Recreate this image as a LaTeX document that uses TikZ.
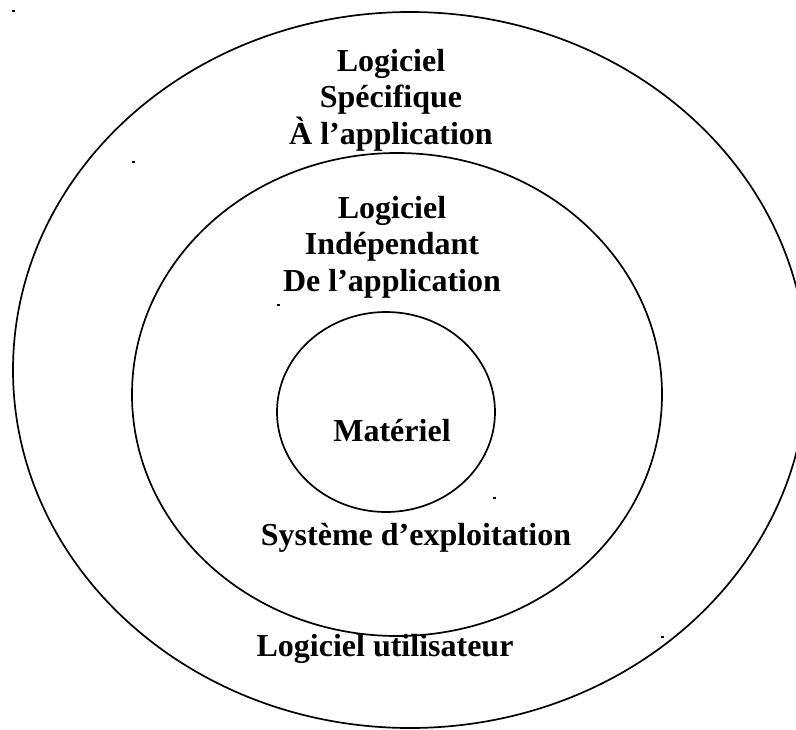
\documentclass[tikz,border=0pt]{standalone}
\usepackage{fontspec}
\setmainfont{Liberation Serif}
\usetikzlibrary{shapes.geometric}
\begin{document}
\begin{tikzpicture}[x=1pt,y=-1pt,
  ring/.style={draw=black,line width=1.7pt,ellipse,inner sep=0pt},
  label/.style={align=center,font=\fontsize{32}{36.5}\selectfont\bfseries,inner sep=0pt},
  tick/.style={fill=black,minimum width=3pt,minimum height=2pt,inner sep=0pt}]
  \useasboundingbox (0,0) rectangle (796,729);
  \begin{scope}
    \clip (0,0) rectangle (796,729);
    % three nested layers
    \node[ring,minimum width=794pt,minimum height=716pt] (outer) at (410,370) {};
  \end{scope}
  \node[ring,minimum width=530pt,minimum height=483pt] (middle) at (397,394.5) {};
  \node[ring,minimum width=218pt,minimum height=200pt] (inner) at (386,412) {};

  % layer labels
  \node[label] (spec) at (391,100) {Logiciel\\Spécifique\\À l’application};
  \node[label] (indep) at (392,247) {Logiciel\\Indépendant\\De l’application};
  \node[label] (hw) at (392,431) {Matériel};
  \node[label] (os) at (416,538) {Système d’exploitation};
  \node[label] (user) at (385,649) {Logiciel utilisateur};

  % small marks
  \node[tick] (m1) at (13,11) {};
  \node[tick] (m2) at (133,162) {};
  \node[tick] (m3) at (278,305) {};
  \node[tick] (m4) at (494,498) {};
  \node[tick] (m5) at (662,637) {};
\end{tikzpicture}
\end{document}
